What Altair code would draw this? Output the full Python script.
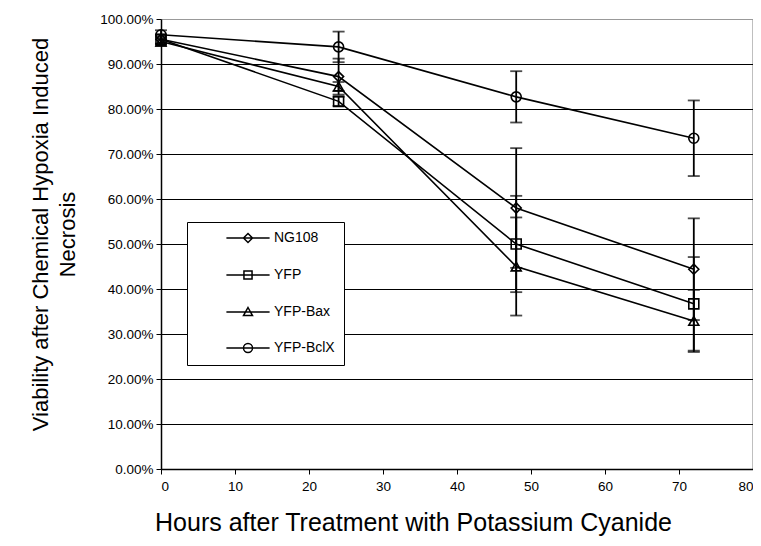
import altair as alt
import pandas as pd

hours = [0, 24, 48, 72]
series_names = ["NG108", "YFP", "YFP-Bax", "YFP-BclX"]
ng108 = [95.5, 87.2, 58.0, 44.4]
ng108_err = [1.0, 4.0, 13.3, 11.3]
yfp = [95.5, 81.7, 50.0, 36.7]
yfp_err = [1.0, 1.0, 10.7, 10.4]
bax = [95.0, 85.0, 45.0, 32.9]
bax_err = [1.0, 1.0, 10.9, 6.9]
bclx = [96.5, 93.8, 82.7, 73.5]
bclx_err = [1.0, 3.4, 5.7, 8.4]

y_ticks = [i / 10 for i in range(11)]
x_ticks = list(range(0, 81, 10))

rows = []
for name, vals, errs in zip(series_names, [ng108, yfp, bax, bclx],
                            [ng108_err, yfp_err, bax_err, bclx_err]):
    for h, v, e in zip(hours, vals, errs):
        rows.append({"series": name, "hours": h, "v": v / 100,
                     "lo": (v - e) / 100, "hi": (v + e) / 100})
df = pd.DataFrame(rows)

FONT = "Liberation Sans"

xs = alt.Scale(domain=[0, 80], nice=False)
ys = alt.Scale(domain=[0, 1], nice=False)

x_axis = alt.Axis(values=x_ticks, title="Hours after Treatment with Potassium Cyanide",
                  labelFont=FONT, labelFontSize=13.5, labelColor="black",
                  titleFont=FONT, titleFontSize=25, titleFontWeight="normal",
                  titleColor="black", titlePadding=18, titleX=252,
                  domainColor="black", domainWidth=1.5, tickColor="black",
                  tickSize=5, tickWidth=1, labelPadding=5,
                  grid=True, gridWidth=1.5,
                  gridColor=alt.condition("datum.value == 80", alt.value("black"),
                                          alt.value("transparent")))
y_axis = alt.Axis(values=y_ticks, format=".2%",
                  title=["Viability after Chemical Hypoxia Induced", "Necrosis"],
                  labelFont=FONT, labelFontSize=13.5, labelColor="black",
                  titleFont=FONT, titleFontSize=22, titleFontWeight="normal",
                  titleColor="black", titlePadding=20, titleLineHeight=27, titleY=215,
                  domainColor="black", domainWidth=1.5, tickColor="black",
                  tickSize=5, tickWidth=1, labelPadding=3,
                  grid=True, gridWidth=1,
                  gridColor=alt.condition("datum.value == 1", alt.value("#999999"),
                                          alt.value("black")))

base = alt.Chart(df)

lines = base.mark_line(color="black", strokeWidth=1.6).encode(
    x=alt.X("hours:Q", scale=xs, axis=x_axis),
    y=alt.Y("v:Q", scale=ys, axis=y_axis),
    detail="series:N",
)

rules = base.mark_rule(color="black", strokeWidth=1.8).encode(
    x="hours:Q", y="lo:Q", y2="hi:Q")

cap_lo = base.mark_tick(color="black", thickness=1.8, size=12, orient="horizontal").encode(
    x="hours:Q", y="lo:Q")
cap_hi = base.mark_tick(color="black", thickness=1.8, size=12, orient="horizontal").encode(
    x="hours:Q", y="hi:Q")

points = base.mark_point(filled=False, color="black", strokeWidth=1.6, size=100, opacity=1).encode(
    x="hours:Q", y="v:Q",
    shape=alt.Shape("series:N", scale=alt.Scale(domain=series_names,
                    range=["diamond", "square", "triangle-up", "circle"]), legend=None),
)

legend_paths = [
    "M-4.8,0H4.8M0,-1L1,0L0,1L-1,0Z",
    "M-4.8,0H4.8M-0.9,-0.9H0.9V0.9H-0.9Z",
    "M-4.8,0H4.8M0,-1L1,0.8H-1Z",
    "M-4.8,0H4.8M1,0A1,1,0,1,1,-1,0A1,1,0,1,1,1,0Z",
]

legend_layer = base.mark_point(opacity=0, color="black").encode(
    x="hours:Q", y="v:Q",
    shape=alt.Shape("series:N", scale=alt.Scale(domain=series_names, range=legend_paths),
                    legend=alt.Legend(orient="none", legendX=26, legendY=203, title=None,
                                      strokeColor="black", fillColor="white",
                                      padding=9, symbolSize=81, symbolOpacity=1,
                                      symbolStrokeColor="black", symbolFillColor="transparent",
                                      symbolStrokeWidth=1.5, symbolOffset=45,
                                      labelFont=FONT, labelFontSize=14, labelColor="black",
                                      labelOffset=19, rowPadding=21, labelLimit=200)),
)

chart = alt.layer(lines, rules, cap_lo, cap_hi, points, legend_layer).resolve_scale(
    shape="independent"
).properties(
    width=592, height=450,
    autosize=alt.AutoSizeParams(type="none"),
    padding={"left": 153, "top": 11, "right": 0, "bottom": 67},
).configure_view(stroke=None).configure(background="white")

chart.save("out.html", embed_options={"renderer": "svg", "actions": False})
